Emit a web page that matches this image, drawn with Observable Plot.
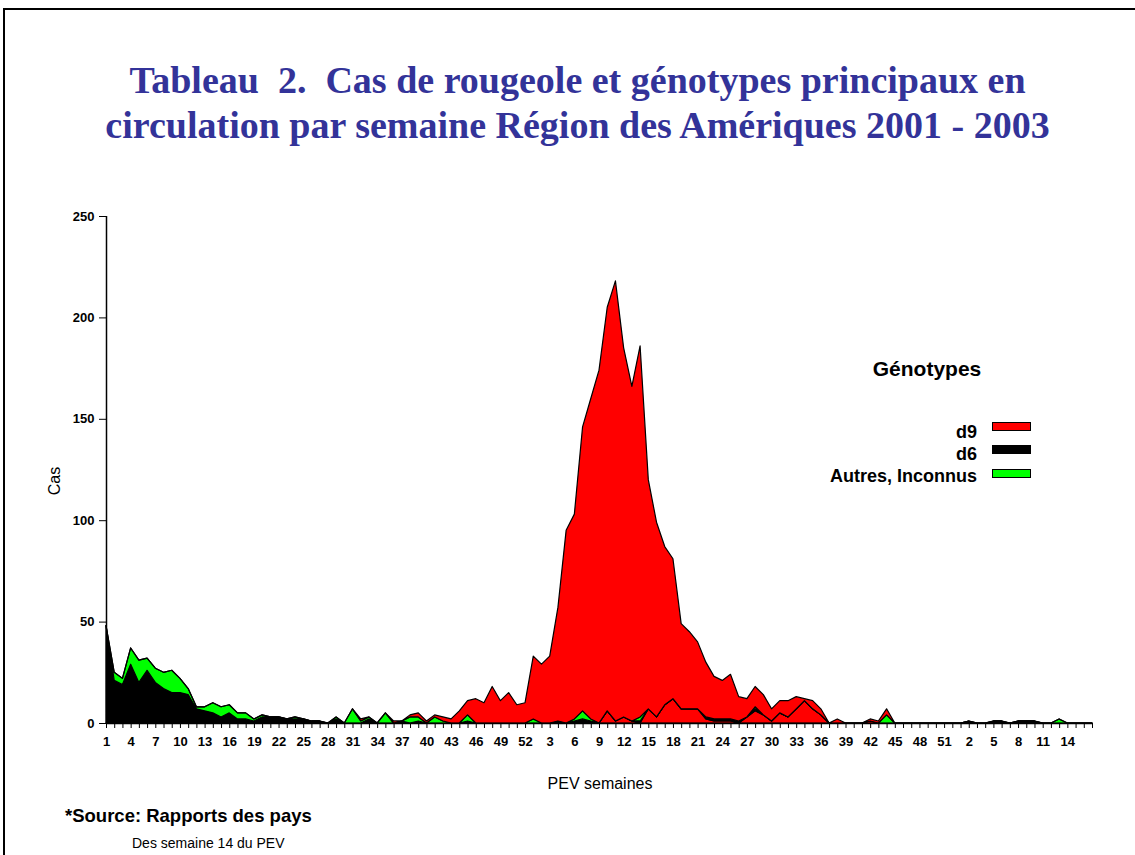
<!DOCTYPE html>
<html>
<head>
<meta charset="utf-8">
<script src="https://cdn.jsdelivr.net/npm/d3@7"></script>
<script src="https://cdn.jsdelivr.net/npm/@observablehq/plot@0.6"></script>
<style>
  body { margin: 0; background: #fff; }
  #page { position: relative; width: 1135px; height: 855px; overflow: hidden; background: #fff;
          font-family: Arial, "Liberation Sans", sans-serif; color: #000; }
  .frameTop { position: absolute; left: 3px; top: 8px; width: 1132px; height: 2px; background: #000; }
  .frameLeft { position: absolute; left: 3px; top: 8px; width: 2px; height: 847px; background: #000; }
  #title { position: absolute; left: 20px; top: 58px; width: 1115px; text-align: center;
           font-family: "Liberation Serif", "Times New Roman", serif; font-weight: bold;
           font-size: 38px; line-height: 45px; color: #333399; white-space: pre; }
  #chart { position: absolute; left: 0; top: 200px; }
  .abs { position: absolute; white-space: nowrap; }
  #legTitle { left: 827px; width: 200px; top: 357px; text-align: center; font-weight: bold; font-size: 21px; }
  .legRow { position: absolute; left: 740px; width: 237px; text-align: right; font-weight: bold; font-size: 18px; line-height: 20px; }
  .sw { position: absolute; left: 992px; width: 37px; height: 7px; border: 1px solid #000; }
  #ylab { left: 55px; top: 481px; font-size: 16px; transform: translate(-50%, -50%) rotate(-90deg); }
  #xlab { left: 600px; top: 784px; font-size: 16px; transform: translate(-50%, -50%); }
  #src1 { left: 65px; top: 805px; font-size: 18.5px; font-weight: bold; }
  #src2 { left: 132px; top: 835px; font-size: 14px; }
</style>
</head>
<body>
<div id="page">
  <div class="frameTop"></div>
  <div class="frameLeft"></div>
  <div id="title">Tableau  2.  Cas de rougeole et génotypes principaux en
circulation par semaine Région des Amériques 2001 - 2003</div>
  <div id="chart"></div>
  <div class="abs" id="legTitle">Génotypes</div>
  <div class="legRow" style="top:422px">d9</div>
  <div class="sw" style="top:422px;background:#ff0000"></div>
  <div class="legRow" style="top:444px">d6</div>
  <div class="sw" style="top:445px;background:#000000"></div>
  <div class="legRow" style="top:466px">Autres, Inconnus</div>
  <div class="sw" style="top:469px;background:#00ff00"></div>
  <div class="abs" id="ylab">Cas</div>
  <div class="abs" id="xlab">PEV semaines</div>
  <div class="abs" id="src1">*Source: Rapports des pays</div>
  <div class="abs" id="src2">Des semaine 14 du PEV</div>
</div>
<script>
// Categories: epidemiological weeks (PEV) 2001 (1-52), 2002 (1-52), 2003 (1-17)
const years = [2001, 2002, 2003];
const weeksInYear = [52, 52, 17];
const weekLabels = [];
years.forEach((y, k) => { for (let w = 1; w <= weeksInYear[k]; w++) weekLabels.push(w); });

// d9 genotyped cases (lower red band)
const d9 = [
  // 2001
  0,0,0,0,0,0,0,0,0,0, 0,0,0,0,0,0,0,0,0,0, 0,0,0,0,0,0,0,0,0,0,
  0,0,0,0,0,0,0,0,0,0, 0,0,0,0,0,0,0,0,0,0, 0,0,
  // 2002
  0,0,0,0,0,0,0,0,0,6, 1,3,1,0,7,3,9,12,7,7, 7,2,1,1,1,0,3,6,4,1,
  5,3,7,11,7,4,0,0,0,0, 0,1,0,0,0,0,0,0,0,0, 0,0,
  // 2003
  0,0,0,0,0,0,0,0,0,0, 0,0,0,0,0,0,0
];
// d6 cases (black)
const d6 = [
  // 2001
  48,21,19,29,20,26,20,17,15,15, 14,7,6,5,3,5,2,2,1,3, 3,3,2,2,2,1,1,0,2,0,
  0,0,2,0,0,0,1,0,1,0, 0,0,0,0,1,0,0,0,0,0, 0,0,
  // 2002
  0,0,0,1,0,1,2,1,0,0, 0,0,0,1,0,0,0,0,0,0, 0,1,1,1,1,1,0,1,0,0,
  0,0,0,0,0,0,0,0,0,0, 0,0,0,0,0,0,0,0,0,0, 0,0,
  // 2003
  0,1,0,0,1,1,0,1,1,1, 0,0,0,0,0,0,0
];
// Other / unknown genotypes (green)
const autres = [
  // 2001
  0,4,3,8,11,6,7,8,11,7, 3,1,2,5,5,4,3,3,1,1, 0,0,0,1,0,0,0,0,1,0,
  7,1,1,0,5,0,0,3,2,0, 3,1,0,0,3,0,0,0,0,0, 0,0,
  // 2002
  2,0,0,0,0,1,4,1,0,0, 0,0,0,2,0,0,0,0,0,0, 0,0,0,0,0,0,0,1,0,0,
  0,0,0,0,0,0,0,0,0,0, 0,0,0,4,0,0,0,0,0,0, 0,0,
  // 2003
  0,0,0,0,0,0,0,0,0,0, 0,0,2,0,0,0,0
];
// Total cases per week (top of the red area)
const totalCas = [
  // 2001
  48,25,22,37,31,32,27,25,26,22, 17,8,8,10,8,9,5,5,2,4, 3,3,2,3,2,1,1,0,3,0,
  7,2,3,0,5,1,1,4,5,1, 4,3,2,6,11,12,10,18,11,15, 9,10,
  // 2002
  33,29,33,57,95,103,146,160,174,205, 218,185,166,186,120,99,87,81,49,45, 40,30,23,21,24,13,12,18,14,7,
  11,11,13,12,11,7,0,2,0,0, 0,2,1,7,0,0,0,0,0,0, 0,0,
  // 2003
  0,1,0,0,1,1,0,1,1,1, 0,0,2,0,0,0,0
];

const layers = ["d9", "d6", "autres", "reste"];
const rows = [];
weekLabels.forEach((w, i) => {
  const reste = Math.max(0, totalCas[i] - d9[i] - d6[i] - autres[i]);
  rows.push({i, layer: "d9", v: d9[i]});
  rows.push({i, layer: "d6", v: d6[i]});
  rows.push({i, layer: "autres", v: autres[i]});
  rows.push({i, layer: "reste", v: reste});
});

const chart = Plot.plot({
  width: 1135,
  height: 560,
  marginTop: 16,
  marginBottom: 37,
  marginLeft: 106,
  marginRight: 43,
  style: {fontFamily: "Arial, 'Liberation Sans', sans-serif", fontSize: "13px", fontWeight: "bold", color: "#000", background: "transparent"},
  x: {type: "linear", domain: [0, weekLabels.length - 1], ticks: d3.range(0, weekLabels.length), tickSize: 5, tickPadding: 8,
      tickFormat: i => (i % 3 === 0 && i <= 117) ? String(weekLabels[i]) : "", label: null},
  y: {domain: [0, 250], ticks: [0, 50, 100, 150, 200, 250], tickSize: 7, tickPadding: 5, label: null},
  color: {type: "ordinal", domain: layers, range: ["#ff0000", "#000000", "#00ff00", "#ff0000"]},
  marks: [
    Plot.areaY(rows, {x: "i", y: "v", fill: "layer", z: "layer", order: layers, stroke: "#000", strokeWidth: 1.2, curve: "linear"}),
    Plot.ruleY([0], {stroke: "#000", strokeWidth: 1.5}),
    Plot.ruleX([0], {stroke: "#000", strokeWidth: 1.5})
  ]
});
document.getElementById("chart").appendChild(chart);
</script>
</body>
</html>
